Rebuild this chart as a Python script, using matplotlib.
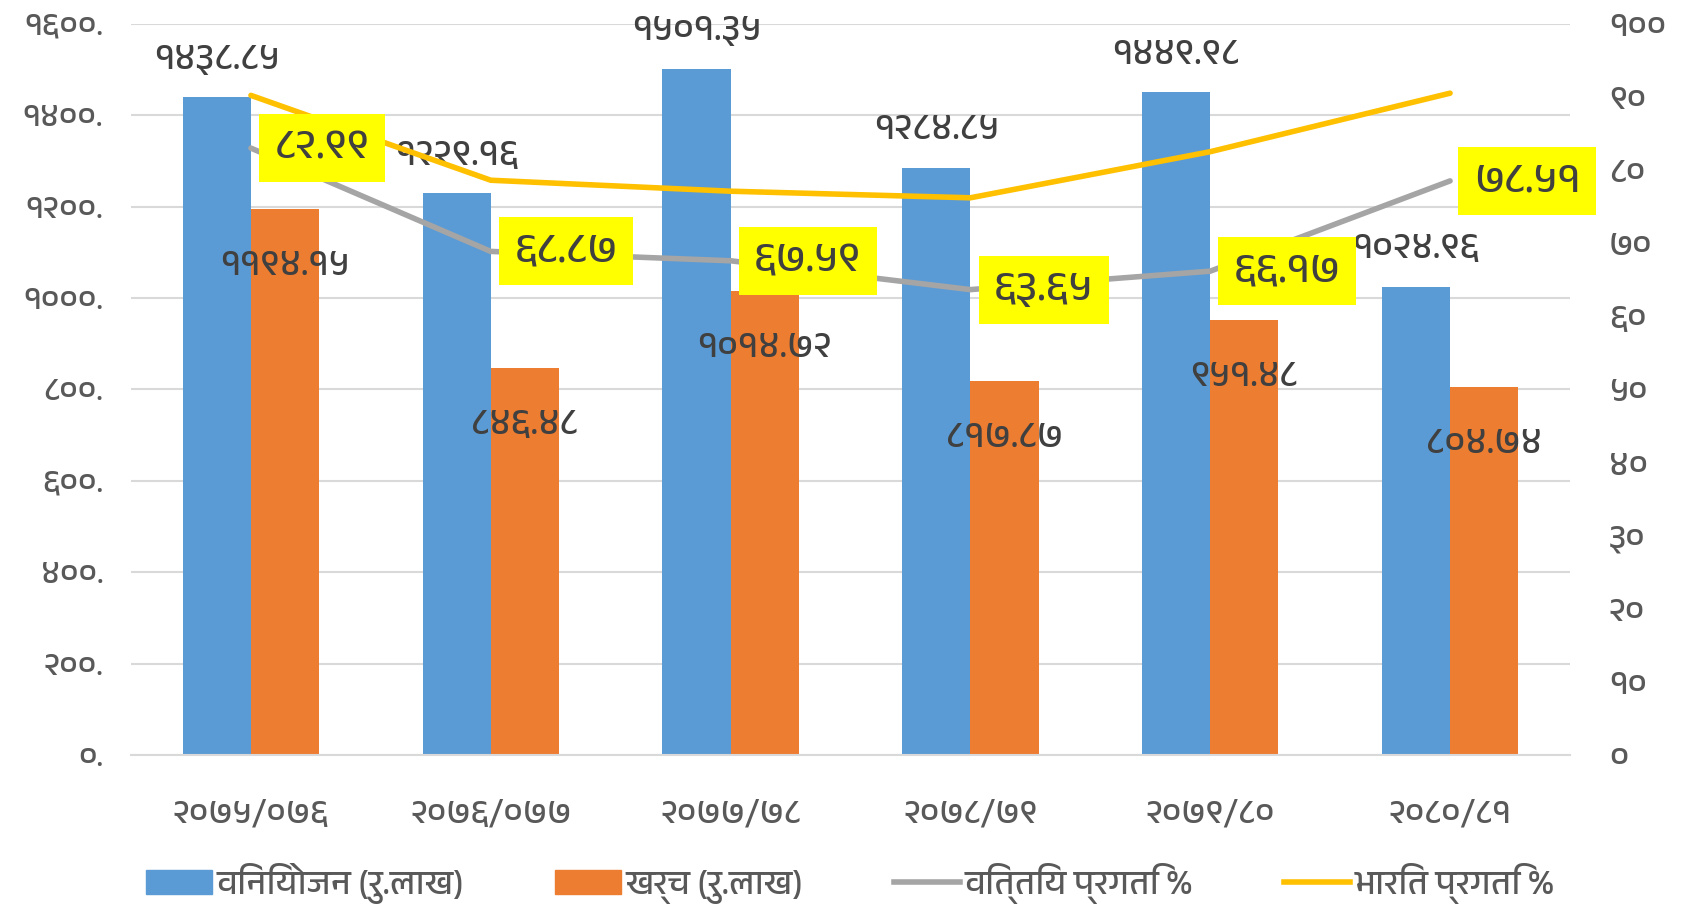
import numpy as np
import matplotlib
matplotlib.use("Agg")
import matplotlib.pyplot as plt
from matplotlib import font_manager
from matplotlib.patches import Patch
from matplotlib.lines import Line2D

years = ['२०७५/०७६', '२०७६/०७७', '२०७७/७८', '२०७८/७९', '२०७९/८०', '२०८०/८१']
allocation = [1438.85, 1229.16, 1501.35, 1284.85, 1449.98, 1024.96]
expense = [1194.15, 846.48, 1014.72, 817.87, 951.48, 804.74]
fin_progress = [82.99, 68.87, 67.59, 63.65, 66.17, 78.51]
weighted_progress = [90.2, 78.6, 77.1, 76.2, 82.5, 90.5]
series_names = ['विनियोजन (रु.लाख)', 'खर्च (रु.लाख)', 'वित्तिय प्रगति %', 'भारित प्रगति %']

# pick a font that has devanagari if the machine has one
deva = [f.name for f in font_manager.fontManager.ttflist
        if 'Devanagari' in f.name or f.name in ('Lohit Devanagari', 'Mukta', 'Kalimati', 'Mangal', 'Nirmala UI', 'Gargi')]
plt.rcParams['font.family'] = sorted(set(deva))[:1] + ['DejaVu Sans']

to_deva = str.maketrans('0123456789', '०१२३४५६७८९')
def dev(s):
    return str(s).translate(to_deva)

blue = '#5B9BD5'
orange = '#ED7D31'
grey = '#A5A5A5'
gold = '#FFC000'
txt = '#595959'

fig = plt.figure(figsize=(16.84, 9.11), dpi=100)
ax = fig.add_axes([0.0778, 0.171, 0.8545, 0.803])
ax2 = ax.twinx()

x = np.arange(len(years))
w = 0.284
ax.bar(x - w / 2, allocation, w, color=blue, zorder=2)
ax.bar(x + w / 2, expense, w, color=orange, zorder=2)

ax.set_ylim(0, 1600)
ax.set_xlim(-0.5, len(years) - 0.5)
ax.set_yticks(np.arange(0, 1601, 200))
ax.set_yticklabels([dev(f'{v}.') for v in range(0, 1601, 200)])
ax.set_xticks(x)
ax.set_xticklabels(years)
ax.grid(axis='y', color='#d9d9d9', lw=1.5, zorder=0)
ax.set_axisbelow(True)
for s in ['top', 'left', 'right']:
    ax.spines[s].set_visible(False)
    ax2.spines[s].set_visible(False)
ax.spines['bottom'].set_color('#d9d9d9')
ax.spines['bottom'].set_linewidth(1.5)
ax2.spines['bottom'].set_visible(False)
ax.tick_params(axis='y', length=0, pad=20, labelsize=24, labelcolor=txt)
ax.tick_params(axis='x', length=0, pad=31, labelsize=25, labelcolor=txt)

ax2.set_ylim(0, 100)
ax2.set_yticks(np.arange(0, 101, 10))
ax2.set_yticklabels([dev(v) for v in range(0, 101, 10)])
ax2.tick_params(axis='y', length=0, pad=28, labelsize=25, labelcolor=txt)

ax2.plot(x, fin_progress, color=grey, lw=4, solid_capstyle='round', zorder=3)
ax2.plot(x, weighted_progress, color=gold, lw=4, solid_capstyle='round', zorder=3)

for xi, v in zip(x, allocation):
    ax.annotate(dev(f'{v:.2f}'), (xi - w / 2, v), xytext=(0, 27), textcoords='offset points',
                ha='center', va='center', fontsize=27, color='#404040')
for xi, v in zip(x, expense):
    ax.annotate(dev(f'{v:.2f}'), (xi + w / 2, v), xytext=(0, -41), textcoords='offset points',
                ha='center', va='center', fontsize=27, color='#404040')
for xi, v in zip(x, fin_progress):
    ax2.annotate(dev(f'{v:.2f}'), (xi, v), xytext=(17, 0), textcoords='offset points',
                 ha='left', va='center', fontsize=31, fontweight='bold', color='#404040',
                 bbox=dict(boxstyle='square,pad=0.36', fc='#FFFF00', ec='none'), zorder=5)

handles = [Patch(color=blue), Patch(color=orange),
           Line2D([], [], color=grey, lw=4), Line2D([], [], color=gold, lw=4)]
fig.legend(handles, series_names, loc='lower center', bbox_to_anchor=(0.505, -0.027), ncol=4,
           frameon=False, labelcolor=txt, handlelength=1.9, handletextpad=0.15,
           columnspacing=2.6, prop={'size': 25, 'weight': 'bold'})

fig.savefig('out.png', dpi=100)
